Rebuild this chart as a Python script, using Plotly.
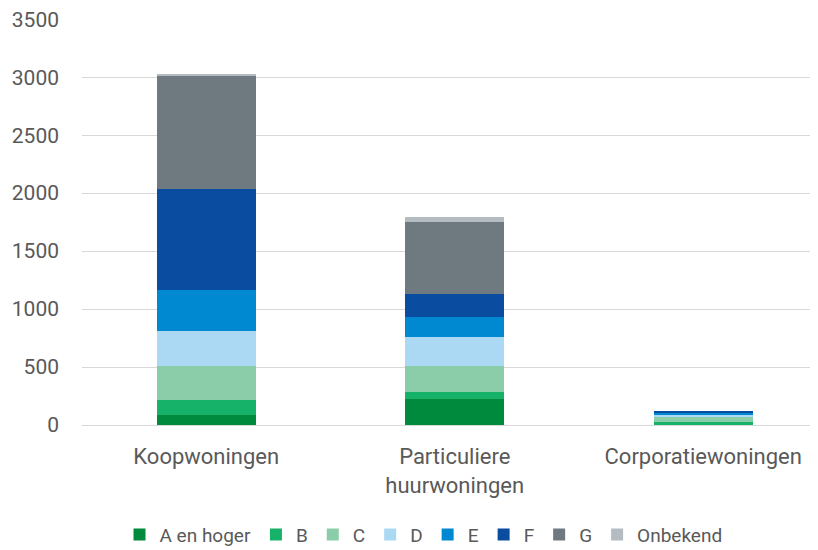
import plotly.graph_objects as go

categories = ["Koopwoningen", "Particuliere<br>huurwoningen", "Corporatiewoningen"]
series_names = ["A en hoger", "B", "C", "D", "E", "F", "G", "Onbekend"]
a_en_hoger = [88, 225, 8]
b_vals = [127, 60, 15]
c_vals = [290, 220, 50]
d_vals = [305, 252, 17]
e_vals = [355, 178, 16]
f_vals = [875, 195, 12]
g_vals = [968, 624, 0]
onbekend = [22, 42, 0]
colors = ["#008A3E", "#17B26A", "#8BCDA8", "#ABD9F3", "#0089D0", "#0A4DA0", "#6E7A80", "#B4BCC2"]
y_ticks = [0, 500, 1000, 1500, 2000, 2500, 3000, 3500]

values = [a_en_hoger, b_vals, c_vals, d_vals, e_vals, f_vals, g_vals, onbekend]

fig = go.Figure()
for name, vals, col in zip(series_names, values, colors):
    fig.add_trace(go.Bar(x=categories, y=vals, name=name, marker=dict(color=col, line=dict(width=0)), width=0.4))

font = "Roboto, sans-serif"
fig.update_layout(
    barmode="stack",
    width=810, height=542,
    margin=dict(l=74, r=0, t=11, b=125, autoexpand=False),
    plot_bgcolor="white", paper_bgcolor="white",
    font=dict(family=font, size=21, color="#595959"),
    showlegend=True,
    legend=dict(orientation="h", x=0.464, xanchor="center", y=-0.27, yanchor="middle",
                font=dict(size=19, color="#595959"), traceorder="normal", itemwidth=30),
    xaxis=dict(range=[-0.5, 2.462], showgrid=False, showline=False, ticks="",
               ticklabelstandoff=16, tickfont=dict(size=22, color="#595959")),
    yaxis=dict(range=[0, 3502], tickvals=y_ticks, showgrid=True, gridcolor="#D9D9D9", gridwidth=1.3,
               zeroline=True, zerolinecolor="#D9D9D9", zerolinewidth=1.3, showline=False, ticks="",
               ticklabeloverflow="allow",
               ticklabelstandoff=22, tickfont=dict(size=21, color="#595959")),
    bargap=0.6,
)
fig.write_html("out.html")
